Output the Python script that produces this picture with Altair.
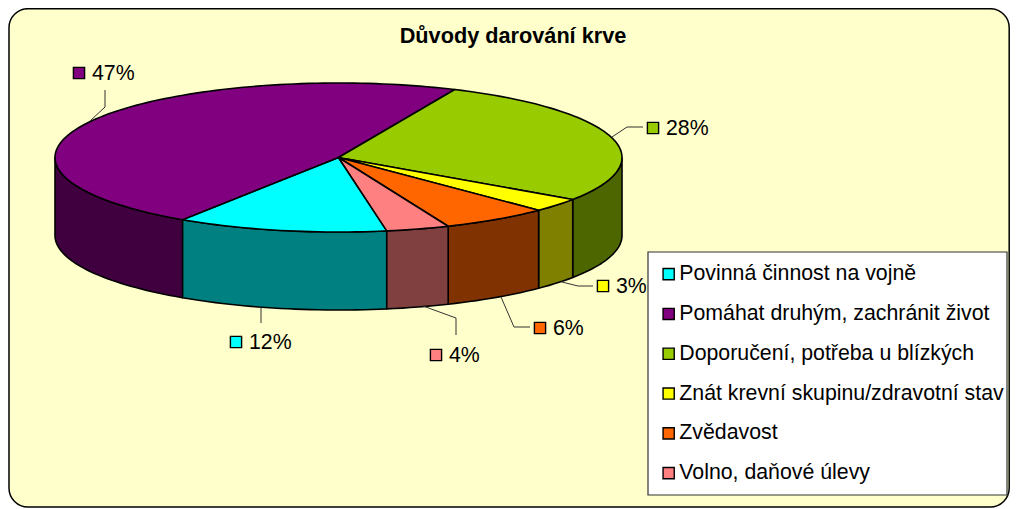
import math
import altair as alt
import pandas as pd

categories = ["Povinná činnost na vojně", "Pomáhat druhým, zachránit život",
              "Doporučení, potřeba u blízkých", "Znát krevní skupinu/zdravotní stav",
              "Zvědavost", "Volno, daňové úlevy"]
shares = [12.0, 47.45, 27.8, 3.0, 6.15, 3.6]
top_colors = ["#00FFFF", "#800080", "#99CC00", "#FFFF00", "#FF6600", "#FF8080"]
wall_colors = ["#008080", "#400040", "#4D6600", "#808000", "#803300", "#804040"]

# picture geometry (image pixels)
CX, CY, RX, RY, DEPTH = 338.5, 157.5, 283.5, 74.5, 78.0
START = 170.2
label_pos = [(249, 342), (92, 73), (666, 128), (616, 286), (553, 328), (449, 355)]
leaders = [[(261, 307), (261, 323)],
           [(90, 121), (105, 107), (105, 90)],
           [(612, 137), (627, 127), (643, 127)],
           [(562, 282), (578, 286), (593, 286)],
           [(501, 297), (514, 327), (530, 327)],
           [(423, 306), (456, 318), (456, 335)]]

def rim(phi, drop=0.0):
    a = math.radians(phi)
    return CX + RX * math.sin(a), CY - RY * math.cos(a) + drop

def arc(a0, a1):
    n = max(2, int(abs(a1 - a0) / 1.5) + 1)
    return [a0 + (a1 - a0) * i / (n - 1) for i in range(n)]

top_rows, wall_rows = [], []
a = START
for name, share, tc, wc in zip(categories, shares, top_colors, wall_colors):
    b = a + share * 3.6
    pts = [(CX, CY)] + [rim(p) for p in arc(a, b)] + [(CX, CY)]
    for i, (x, y) in enumerate(pts):
        top_rows.append(dict(cat=name, x=x, y=y, o=i, c=tc))
    # visible side wall: the front half of the rim (90..270 degrees, wrapped)
    for lo, hi in ((a, b), (a - 360, b - 360)):
        l, h = max(lo, 90), min(hi, 270)
        if l < h:
            seq = [rim(p) for p in arc(l, h)] + [rim(p, DEPTH) for p in arc(h, l)]
            seq.append(seq[0])
            for i, (x, y) in enumerate(seq):
                wall_rows.append(dict(cat=name, x=x, y=y, o=i, c=wc))
    a = b

top_df = pd.DataFrame(top_rows)
wall_df = pd.DataFrame(wall_rows)
label_df = pd.DataFrame(dict(cat=categories, text=[f"{round(v)}%" for v in shares],
                             x=[p[0] for p in label_pos], y=[p[1] for p in label_pos],
                             kx=[p[0] - 13 for p in label_pos]))
lead_df = pd.DataFrame([dict(cat=c, x=x, y=y, o=i)
                        for c, pts in zip(categories, leaders) for i, (x, y) in enumerate(pts)])

xs = alt.Scale(domain=[8, 1010], range=[0, 1002], nice=False, zero=False)
ys = alt.Scale(domain=[8, 509], range=[0, 501], nice=False, zero=False)
X = alt.X("x:Q", scale=xs, axis=None)
Y = alt.Y("y:Q", scale=ys, axis=None)
FONT = "Liberation Sans"
FS = 21.3

def box(x, x2, y, y2, **kw):
    return alt.Chart(pd.DataFrame(dict(x=[x], x2=[x2], y=[y], y2=[y2]))).mark_rect(**kw).encode(
        x=X, x2="x2:Q", y=Y, y2="y2:Q")

panel = box(9, 1009.2, 8.7, 507, fill="#FFFFCC", stroke="#000000", strokeWidth=1.5, cornerRadius=19)
legend_box = box(648, 1007, 252, 495, fill="#FFFFFF", stroke="#333333", strokeWidth=1.2)

walls = alt.Chart(wall_df).mark_line(filled=True, stroke="#000000", strokeWidth=1.6, strokeJoin="round").encode(
    x=X, y=Y, detail="cat:N", order="o:Q", fill=alt.Fill("c:N", scale=None))
tops = alt.Chart(top_df).mark_line(filled=True, stroke="#000000", strokeWidth=1.6, strokeJoin="round").encode(
    x=X, y=Y, detail="cat:N", order="o:Q", fill=alt.Fill("c:N", scale=None))
lead = alt.Chart(lead_df).mark_line(stroke="#333333", strokeWidth=1).encode(
    x=X, y=Y, detail="cat:N", order="o:Q")

color = alt.Color("cat:N", scale=alt.Scale(domain=categories, range=top_colors),
    legend=alt.Legend(orient="none", legendX=650, legendY=255.5, title=None,
                      padding=0, symbolType="square", symbolSize=125,
                      symbolStrokeColor="#000000", symbolStrokeWidth=1.4, labelFont=FONT,
                      labelFontSize=FS, labelColor="#000000", rowPadding=17.8, labelLimit=400,
                      labelOffset=0))
keys = alt.Chart(label_df).mark_point(shape="square", filled=True, size=125, stroke="#000000",
                                      strokeWidth=1.4, opacity=1).encode(
    x=alt.X("kx:Q", scale=xs, axis=None), y=Y, color=color)
labels = alt.Chart(label_df).mark_text(align="left", baseline="middle", font=FONT, fontSize=FS, dy=1,
                                       color="#000000").encode(x=X, y=Y, text="text:N")

chart = alt.layer(panel, legend_box, walls, tops, lead, keys, labels).properties(
    width=1002, height=501, padding=0, autosize=alt.AutoSizeParams(type="none"),
    background="#FFFFFF",
    title=alt.TitleParams("Důvody darování krve", font=FONT, fontSize=21.7, fontWeight="bold",
                          anchor="middle", color="#000000", offset=-40, dx=4)
).configure_view(stroke=None)

chart.save("out.html", embed_options={"renderer": "svg", "actions": False})
